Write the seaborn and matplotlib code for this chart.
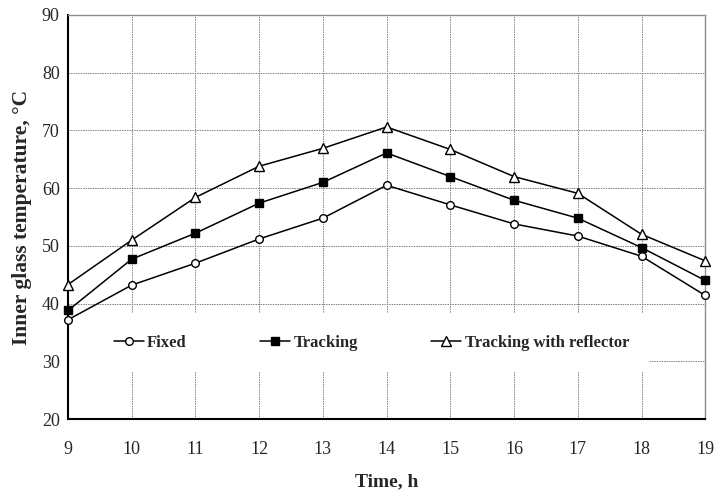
import pandas as pd
import seaborn as sns
import matplotlib
matplotlib.use("Agg")
from matplotlib import pyplot as plt
from matplotlib.patches import Rectangle

hours = [9, 10, 11, 12, 13, 14, 15, 16, 17, 18, 19]
fixed = [37.2, 43.2, 47.0, 51.2, 54.8, 60.5, 57.1, 53.8, 51.7, 48.2, 41.4]
tracking = [38.8, 47.7, 52.2, 57.4, 61.0, 66.1, 62.0, 57.9, 54.8, 49.7, 44.0]
reflector = [43.3, 51.0, 58.4, 63.8, 66.9, 70.6, 66.7, 62.0, 59.1, 52.0, 47.4]

series_names = ['Fixed', 'Tracking', 'Tracking with reflector']
x_ticks = list(range(9, 20))
y_ticks = [20, 30, 40, 50, 60, 70, 80, 90]

sns.set_theme(style='white')
plt.rcParams['font.family'] = ['Liberation Serif', 'DejaVu Serif']

df = pd.DataFrame({'time': hours * 3,
                   'temp': fixed + tracking + reflector,
                   'series': [s for s in series_names for _ in hours]})

fig = plt.figure(figsize=(7.16, 5), dpi=100)
ax = fig.add_axes([0.095, 0.162, 0.89, 0.808])

styles = {
    'Fixed': dict(marker='o', mfc='white', ms=5.5),
    'Tracking': dict(marker='s', mfc='black', ms=5.5),
    'Tracking with reflector': dict(marker='^', mfc='white', ms=6.5),
}
for name in series_names:
    sub = df[df['series'] == name]
    st = styles[name]
    sns.lineplot(data=sub, x='time', y='temp', ax=ax, color='black', lw=1.1,
                 marker=st['marker'], markerfacecolor=st['mfc'],
                 markeredgecolor='black', markeredgewidth=1.0,
                 markersize=st['ms'], label=name, zorder=3, clip_on=False)

ax.set_xlim(9, 19)
ax.set_ylim(20, 90)
ax.set_xticks(x_ticks)
ax.set_yticks(y_ticks)
ax.set_axisbelow(True)
ax.grid(True, color='#808080', linestyle=(0, (1.5, 1)), linewidth=0.7)

# white box behind the legend hides the grid there
ax.add_patch(Rectangle((0, 0.116), 0.912, 0.146, transform=ax.transAxes,
                       facecolor='white', edgecolor='none', zorder=1))

leg = ax.legend(loc='center left', bbox_to_anchor=(0.072, 0.188), ncol=3,
                frameon=False, borderpad=0, borderaxespad=0,
                handlelength=1.8, handletextpad=0.2, columnspacing=4.4,
                prop={'family': 'Liberation Serif', 'weight': 'bold', 'size': 12})

for side in ['left', 'bottom']:
    ax.spines[side].set_color('black')
    ax.spines[side].set_linewidth(1.5)
for side in ['top', 'right']:
    ax.spines[side].set_color('#8c8c8c')
    ax.spines[side].set_linewidth(1.0)

ax.tick_params(axis='x', direction='out', length=4, width=1, color='black',
               labelsize=13, pad=12)
ax.tick_params(axis='y', direction='inout', length=6, width=1, color='black',
               labelsize=13, pad=3)

ax.set_xlabel('Time, h', fontsize=14, fontweight='bold', labelpad=11)
ax.set_ylabel('Inner glass temperature, °C', fontsize=15.5, fontweight='bold',
              labelpad=7)

fig.savefig('out.png', dpi=100)
